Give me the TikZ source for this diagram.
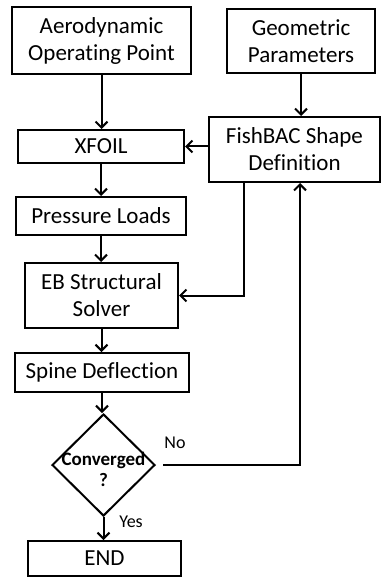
\documentclass[tikz,border=0pt]{standalone}
\usepackage{fontspec}
\setmainfont[Ligatures=NoCommon]{Carlito}
\usetikzlibrary{arrows.meta,positioning,shapes.geometric}

\begin{document}
\begin{tikzpicture}[x=1pt,y=-1pt,>={Straight Barb[length=6pt,width=12pt]},
  blk/.style={draw,line width=2pt,align=center,inner sep=0pt,font=\fontsize{23}{27}\selectfont},
  flow/.style={->,line width=2pt},
  lbl/.style={font=\fontsize{18}{21}\selectfont,inner sep=0pt}]
  \useasboundingbox (0,0) rectangle (381,577);
  % boxes
  \node[blk,minimum width=179pt,minimum height=67pt] (aero) at (101.5,40.5) {Aerodynamic\\Operating Point};
  \node[blk,minimum width=148pt,minimum height=64pt] (geom) at (301,41) {Geometric\\Parameters};
  \node[blk,minimum width=166pt,minimum height=33pt] (xfoil) at (101,146.5) {XFOIL};
  \node[blk,minimum width=171pt,minimum height=65pt] (fish) at (294.5,149.5) {FishBAC Shape\\Definition};
  \node[blk,minimum width=170pt,minimum height=38pt] (press) at (101,216) {Pressure Loads};
  \node[blk,minimum width=153pt,minimum height=65pt] (eb) at (101.5,295.5) {EB Structural\\Solver};
  \node[blk,minimum width=174pt,minimum height=39pt] (spine) at (102,372.5) {Spine Deflection};
  \node[draw,diamond,line width=2pt,inner sep=0pt,minimum width=103pt,minimum height=102pt] (conv) at (103.5,465) {};
  \node[align=center,inner sep=0pt,font=\fontsize{19}{21}\selectfont\bfseries] (convtxt) at (103.5,469) {Converged\\?};
  \node[blk,minimum width=153pt,minimum height=35pt] (end) at (104.5,558.5) {END};
  \node[lbl] (no) at (175,443) {No};
  \node[lbl] (yes) at (131,522) {Yes};
  % connectors
  \draw[flow] (aero.south) -- (aero.south |- xfoil.north);
  \draw[flow] (geom.south) -- (geom.south |- fish.north);
  \draw[flow] (fish.west |- xfoil.east) -- (xfoil.east);
  \draw[flow] (xfoil.south) -- (xfoil.south |- press.north);
  \draw[flow] (press.south) -- (press.south |- eb.north);
  \draw[flow] ([xshift=36pt]fish.south west) |- (eb.east);
  \draw[flow] (eb.south) -- (eb.south |- spine.north);
  \draw[flow] (spine.south) -- (spine.south |- conv.north);
  \draw[flow,shorten <=7pt] (conv.east) -| ([xshift=5.5pt]fish.south);
  \draw[flow] (conv.south) -- (conv.south |- end.north);
\end{tikzpicture}
\end{document}
